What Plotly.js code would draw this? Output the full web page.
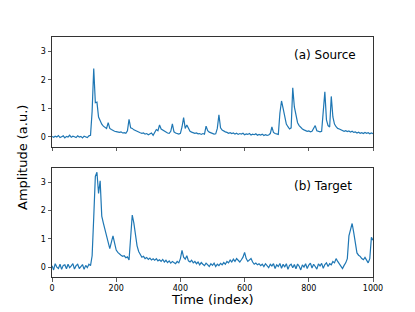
<!DOCTYPE html>
<html>
<head>
<meta charset="utf-8">
<script src="https://cdn.plot.ly/plotly-3.0.1.min.js"></script>
<style>html,body{margin:0;padding:0;background:#fff;}#chart{width:415px;height:312px;}</style>
</head>
<body>
<div id="chart"></div>
<script>
const timeIndex = [
  0,5,10,15,20,25,30,35,40,45,
  50,55,60,65,70,75,80,85,90,95,
  100,105,110,115,120,125,130,135,140,145,
  150,155,160,165,170,175,180,185,190,195,
  200,205,210,215,220,225,230,235,240,245,
  250,255,260,265,270,275,280,285,290,295,
  300,305,310,315,320,325,330,335,340,345,
  350,355,360,365,370,375,380,385,390,395,
  400,405,410,415,420,425,430,435,440,445,
  450,455,460,465,470,475,480,485,490,495,
  500,505,510,515,520,525,530,535,540,545,
  550,555,560,565,570,575,580,585,590,595,
  600,605,610,615,620,625,630,635,640,645,
  650,655,660,665,670,675,680,685,690,695,
  700,705,710,715,720,725,730,735,740,745,
  750,755,760,765,770,775,780,785,790,795,
  800,805,810,815,820,825,830,835,840,845,
  850,855,860,865,870,875,880,885,890,895,
  900,905,910,915,920,925,930,935,940,945,
  950,955,960,965,970,975,980,985,990,995,
  1000
];
const sourceValues = [
  0.02,-0.01,0.03,0.00,0.05,-0.02,0.01,0.04,-0.03,0.02,
  0.00,0.06,-0.01,0.03,0.01,-0.02,0.04,0.00,0.02,-0.03,
  0.03,0.01,-0.02,0.04,0.06,0.9,2.4,1.2,1.22,0.7,
  0.55,0.45,0.38,0.33,0.3,0.5,0.3,0.26,0.22,0.2,
  0.19,0.17,0.16,0.18,0.14,0.15,0.13,0.22,0.62,0.32,
  0.3,0.25,0.22,0.2,0.17,0.15,0.13,0.14,0.1,0.12,
  0.08,0.1,0.14,0.06,0.16,0.26,0.22,0.42,0.28,0.24,
  0.2,0.17,0.14,0.13,0.2,0.46,0.18,0.14,0.12,0.1,
  0.13,0.35,0.68,0.3,0.42,0.28,0.2,0.17,0.15,0.13,
  0.14,0.11,0.12,0.09,0.12,0.1,0.38,0.22,0.17,0.14,
  0.12,0.1,0.11,0.3,0.78,0.32,0.24,0.2,0.18,0.16,
  0.13,0.15,0.12,0.14,0.1,0.13,0.09,0.12,0.1,0.13,
  0.08,0.11,0.09,0.12,0.07,0.1,0.08,0.11,0.06,0.09,
  0.07,0.1,0.05,0.08,0.06,0.07,0.12,0.35,0.16,0.12,
  0.1,0.09,0.84,1.26,1.0,0.65,0.45,0.36,0.28,0.32,
  1.72,1.05,0.75,0.5,0.4,0.33,0.28,0.25,0.22,0.2,
  0.21,0.18,0.2,0.3,0.4,0.22,0.2,0.18,0.2,0.9,
  1.58,0.6,0.4,0.35,1.42,0.7,0.45,0.36,0.3,0.28,
  0.25,0.24,0.2,0.22,0.19,0.21,0.17,0.2,0.16,0.18,
  0.14,0.17,0.13,0.15,0.12,0.16,0.13,0.15,0.11,0.14,
  0.12
];
const targetValues = [
  0.05,-0.1,0.12,0.0,-0.05,0.1,-0.08,0.06,0.08,-0.06,
  0.1,-0.02,0.04,0.12,-0.07,0.05,0.1,-0.05,0.02,0.09,
  -0.08,0.06,-0.02,0.1,0.05,0.4,1.75,3.2,3.35,2.6,
  3.05,1.8,1.55,1.3,1.05,0.8,0.65,0.88,1.1,0.85,
  0.6,0.52,0.46,0.42,0.38,0.4,0.33,0.36,0.25,1.0,
  1.84,1.55,1.1,0.75,0.55,0.42,0.35,0.38,0.3,0.34,
  0.27,0.32,0.25,0.29,0.24,0.3,0.22,0.26,0.2,0.27,
  0.18,0.24,0.16,0.22,0.14,0.2,0.17,0.12,0.2,0.15,
  0.3,0.59,0.35,0.28,0.4,0.22,0.18,0.24,0.15,0.2,
  0.12,0.18,0.08,0.16,0.1,0.05,0.14,0.09,0.02,0.12,
  0.06,0.14,0.02,0.1,0.05,0.13,0.08,0.16,0.1,0.2,
  0.15,0.25,0.18,0.28,0.2,0.3,0.22,0.18,0.26,0.35,
  0.52,0.3,0.2,0.26,0.3,0.18,0.1,0.14,0.08,0.12,
  0.05,0.1,0.02,0.12,0.06,-0.02,0.1,0.04,0.12,-0.05,
  0.08,0.02,0.13,-0.04,0.1,0.0,0.12,-0.08,0.06,0.1,
  -0.02,0.09,-0.06,0.11,0.03,-0.1,0.08,0.0,0.12,-0.05,
  0.07,0.14,-0.03,0.1,0.02,-0.07,0.11,0.04,0.13,-0.04,
  0.09,0.15,0.02,0.12,0.08,0.2,0.15,0.3,0.2,0.1,
  0.05,-0.05,0.06,0.15,0.3,1.1,1.32,1.54,1.22,0.8,
  0.5,0.42,0.38,0.3,0.26,0.34,0.22,0.15,0.3,1.05,
  0.95
];
const xTicks = [0,200,400,600,800,1000];
const yTicks = [0,1,2,3];
const panelLabels = ["(a) Source","(b) Target"];

const lineColor = '#1f77b4';
const font = {family: 'DejaVu Sans, sans-serif', color: '#000'};
const traces = [
  {x: timeIndex, y: sourceValues, xaxis: 'x', yaxis: 'y', mode: 'lines', line: {color: lineColor, width: 1.2}, hoverinfo: 'skip'},
  {x: timeIndex, y: targetValues, xaxis: 'x2', yaxis: 'y2', mode: 'lines', line: {color: lineColor, width: 1.2}, hoverinfo: 'skip'}
];
const axX = {
  range: [0, 1000], tickvals: xTicks, ticktext: xTicks.map(String),
  showline: true, mirror: true, linecolor: '#333', linewidth: 1,
  ticks: 'outside', ticklen: 3.5, tickwidth: 0.8, tickcolor: '#333',
  showgrid: false, zeroline: false, tickfont: {family: font.family, size: 8, color: '#000'}
};
const axY = {
  range: [-0.35, 3.5], tickvals: yTicks, ticktext: yTicks.map(String),
  showline: true, mirror: true, linecolor: '#333', linewidth: 1,
  ticks: 'outside', ticklen: 3.5, tickwidth: 0.8, tickcolor: '#333',
  showgrid: false, zeroline: false, tickfont: {family: font.family, size: 8, color: '#000'}
};
const layout = {
  width: 415, height: 312,
  margin: {l: 52, r: 42, t: 37, b: 35},
  paper_bgcolor: '#fff', plot_bgcolor: '#fff',
  showlegend: false,
  font: font,
  xaxis: Object.assign({}, axX, {domain: [0, 1], anchor: 'y', showticklabels: false, matches: 'x2'}),
  yaxis: Object.assign({}, axY, {domain: [0.5417, 1], anchor: 'x'}),
  xaxis2: Object.assign({}, axX, {domain: [0, 1], anchor: 'y2'}),
  yaxis2: Object.assign({}, axY, {domain: [0, 0.4542], anchor: 'x2'}),
  annotations: [
    {text: panelLabels[0], xref: 'paper', yref: 'paper', x: 0.953, y: 0.925, xanchor: 'right', yanchor: 'middle', showarrow: false, font: {family: font.family, size: 12, color: '#000'}},
    {text: panelLabels[1], xref: 'paper', yref: 'paper', x: 0.94, y: 0.379, xanchor: 'right', yanchor: 'middle', showarrow: false, font: {family: font.family, size: 12, color: '#000'}},
    {text: 'Amplitude (a.u.)', xref: 'paper', yref: 'paper', x: -0.0935, y: 0.5, xanchor: 'center', yanchor: 'middle', textangle: -90, showarrow: false, font: {family: font.family, size: 13, color: '#000'}},
    {text: 'Time (index)', xref: 'paper', yref: 'paper', x: 0.5, y: -0.093, xanchor: 'center', yanchor: 'middle', showarrow: false, font: {family: font.family, size: 13, color: '#000'}}
  ]
};
Plotly.newPlot('chart', traces, layout, {staticPlot: true, displayModeBar: false});
</script>
</body>
</html>
